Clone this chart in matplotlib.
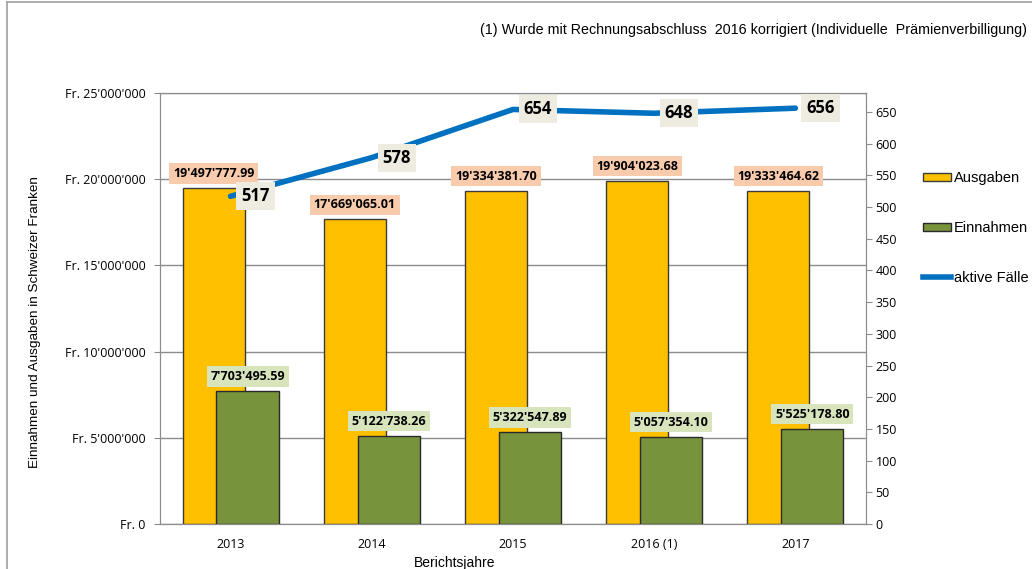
import numpy as np
import matplotlib
matplotlib.use("Agg")
import matplotlib.pyplot as plt
from matplotlib.patches import Patch
from matplotlib.lines import Line2D
from matplotlib.ticker import FuncFormatter

years = ["2013", "2014", "2015", "2016 (1)", "2017"]
ausgaben = [19497777.99, 17669065.01, 19334381.70, 19904023.68, 19333464.62]
einnahmen = [7703495.59, 5122738.26, 5322547.89, 5057354.10, 5525178.80]
faelle = [517, 578, 654, 648, 656]

def chf(v):
    s = f"{v:,.2f}"
    return s.replace(",", "'")

def fr(v, pos=None):
    return "Fr. " + f"{int(round(v)):,}".replace(",", "'")

plt.rcParams['font.family'] = ['Open Sans', 'DejaVu Sans']

fig = plt.figure(figsize=(10.32, 5.69), dpi=100)
ax = fig.add_axes([0.155, 0.0791, 0.6841, 0.7575])
ax2 = ax.twinx()

x = np.arange(len(years))
w = 0.44
off = 0.12
grid_c = "#8c8c8c"

b1 = ax.bar(x - off, ausgaben, w, color="#FFC000", edgecolor="#3a3a3a", linewidth=1, zorder=2)
b2 = ax.bar(x + off, einnahmen, w, color="#77933C", edgecolor="#2a2a2a", linewidth=1, zorder=3)

ax.set_xlim(-0.5, len(years) - 0.5)
ax.set_ylim(0, 25000000)
ax.set_yticks(np.arange(0, 25000001, 5000000))
ax.yaxis.set_major_formatter(FuncFormatter(fr))
ax.grid(axis="y", color=grid_c, linewidth=1, zorder=0)
ax.set_axisbelow(True)
ax.set_xticks(x)
ax.set_xticklabels(years)
ax.tick_params(axis="x", length=0, pad=10, labelsize=9)
ax.tick_params(axis="y", length=4, width=0.8, color=grid_c, pad=6.5, labelsize=9)
for s in ax.spines.values():
    s.set_color(grid_c)
for s in ax2.spines.values():
    s.set_color(grid_c)

for i in range(len(years)):
    ax.annotate(chf(ausgaben[i]), (x[i] - off, ausgaben[i]), xytext=(0, 10.5),
                textcoords="offset points", ha="center", va="center",
                fontsize=9, fontweight="bold", zorder=5,
                bbox=dict(boxstyle="square,pad=0.3", fc="#F8CBAD", ec="none"))
    ax.annotate(chf(einnahmen[i]), (x[i] + off, einnahmen[i]), xytext=(0, 10.5),
                textcoords="offset points", ha="center", va="center",
                fontsize=9, fontweight="bold", zorder=5,
                bbox=dict(boxstyle="square,pad=0.3", fc="#D8E4BC", ec="none"))

ax2.plot(x, faelle, color="#0070C0", linewidth=4, solid_capstyle="round", zorder=4)
ax2.set_ylim(0, 680)
ax2.set_yticks(np.arange(0, 651, 50))
ax2.tick_params(axis="y", length=4, width=0.8, color=grid_c, pad=3, labelsize=9)
for i in range(len(years)):
    ax2.annotate(str(faelle[i]), (x[i], faelle[i]), xytext=(18, 0),
                 textcoords="offset points", ha="center", va="center",
                 fontsize=12, fontweight="bold", zorder=6,
                 bbox=dict(boxstyle="square,pad=0.3", fc="#EEECE1", ec="none"))

ax.set_ylabel("Einnahmen und Ausgaben in Schweizer Franken", family="Liberation Sans", fontsize=9.7)
ax.yaxis.set_label_coords(-0.168, 0.469)
fig.text(455 / 1032, 1 - 563 / 569, "Berichtsjahre", family="Liberation Sans", fontsize=10,
         ha="center", va="center")
fig.text(1027 / 1032, 1 - 30 / 569,
         "(1) Wurde mit Rechnungsabschluss  2016 korrigiert (Individuelle  Prämienverbilligung)",
         family="Liberation Sans", fontsize=10.3, ha="right", va="center")

handles = [Patch(facecolor="#FFC000", edgecolor="#3a3a3a"),
           Patch(facecolor="#77933C", edgecolor="#2a2a2a"),
           Line2D([0], [0], color="#0070C0", linewidth=4)]
fig.legend(handles, ["Ausgaben", "Einnahmen", "aktive Fälle"], loc="upper left",
           bbox_to_anchor=(910 / 1032, 1 - 158 / 569), frameon=False,
           prop={"family": "Liberation Sans", "size": 10.5},
           handlelength=1.9, handleheight=0.45, handletextpad=0.2, labelspacing=2.45)

# outer chart frame (top and left edges)
fig.add_artist(Line2D([7 / 1032, 7 / 1032], [0, 1 - 2 / 569], color="#a0a0a0", linewidth=1.2))
fig.add_artist(Line2D([7 / 1032, 1], [1 - 2 / 569, 1 - 2 / 569], color="#a0a0a0", linewidth=1.2))

fig.savefig("out.png", dpi=100)
